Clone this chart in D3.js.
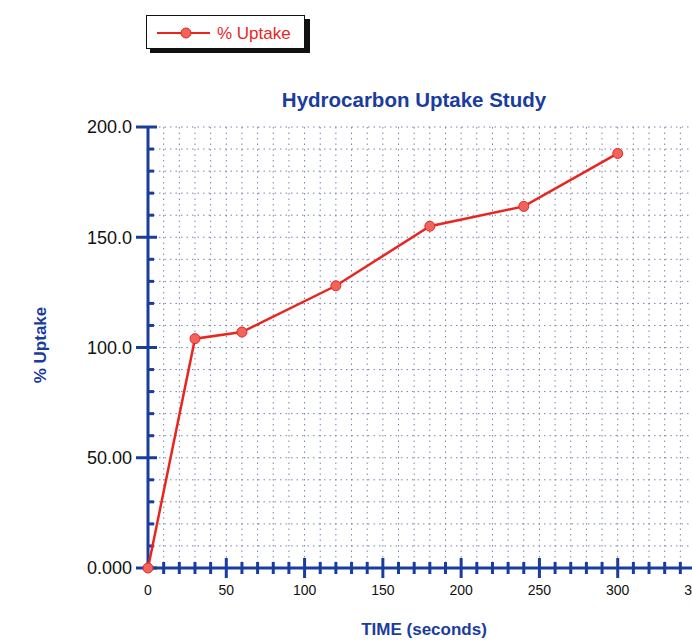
<!DOCTYPE html>
<html>
<head>
<meta charset="utf-8">
<script src="https://cdn.jsdelivr.net/npm/d3@7"></script>
<style>
  body { margin: 0; background: #fff; }
  svg { display: block; font-family: "Liberation Sans", Arial, sans-serif; }
</style>
</head>
<body>
<div id="chart"></div>
<script>
// data
const times = [0, 30, 60, 120, 180, 240, 300];
const uptake = [0, 104, 107, 128, 155, 164, 188];
const xTicks = [0, 50, 100, 150, 200, 250, 300, 350];
const yTicks = [0, 50, 100, 150, 200];
const yTickLabels = ["0.000", "50.00", "100.0", "150.0", "200.0"];
const seriesName = "% Uptake";

const W = 692, H = 640;
const blue = "#1b3c9f";
const red = "#e8261f";

const svg = d3.select("#chart").append("svg")
  .attr("width", W).attr("height", H);

const x = d3.scaleLinear().domain([0, 350]).range([148, 696]);
const y = d3.scaleLinear().domain([0, 200]).range([568, 127]);

// dotted grid, every 10 units
const gx = d3.range(10, 351, 10);
const gy = d3.range(10, 201, 10);
svg.append("g").selectAll("line").data(gx).join("line")
  .attr("x1", d => x(d)).attr("x2", d => x(d))
  .attr("y1", y(200)).attr("y2", y(0))
  .attr("stroke", "#7386b0").attr("stroke-width", 1)
  .attr("stroke-dasharray", "1.5,4");
svg.append("g").selectAll("line").data(gy).join("line")
  .attr("x1", x(0)).attr("x2", W)
  .attr("y1", d => y(d)).attr("y2", d => y(d))
  .attr("stroke", "#7386b0").attr("stroke-width", 1)
  .attr("stroke-dasharray", "1.5,4");

// y axis
const yAxis = svg.append("g").attr("transform", `translate(${x(0)},0)`);
yAxis.append("line").attr("y1", y(200)).attr("y2", y(0))
  .attr("stroke", blue).attr("stroke-width", 3);
yAxis.selectAll(".minor").data(d3.range(10, 200, 10).filter(d => d % 50)).join("line")
  .attr("x1", 0).attr("x2", 6)
  .attr("y1", d => y(d)).attr("y2", d => y(d))
  .attr("stroke", blue).attr("stroke-width", 3);
yAxis.selectAll(".major").data(yTicks).join("line")
  .attr("x1", -12).attr("x2", 9)
  .attr("y1", d => y(d)).attr("y2", d => y(d))
  .attr("stroke", blue).attr("stroke-width", 3);
yAxis.selectAll("text").data(yTicks).join("text")
  .attr("x", -16).attr("y", d => y(d)).attr("dy", "0.35em")
  .attr("text-anchor", "end").attr("font-size", 18).attr("fill", "#111")
  .text((d, i) => yTickLabels[i]);

// x axis
const xAxis = svg.append("g").attr("transform", `translate(0,${y(0)})`);
xAxis.append("line").attr("x1", x(0)).attr("x2", W)
  .attr("stroke", blue).attr("stroke-width", 3);
xAxis.selectAll(".minor").data(d3.range(10, 351, 10).filter(d => d % 50)).join("line")
  .attr("x1", d => x(d)).attr("x2", d => x(d))
  .attr("y1", -6).attr("y2", 6)
  .attr("stroke", blue).attr("stroke-width", 3);
xAxis.selectAll(".major").data(xTicks.slice(1)).join("line")
  .attr("x1", d => x(d)).attr("x2", d => x(d))
  .attr("y1", -10).attr("y2", 10)
  .attr("stroke", blue).attr("stroke-width", 3);
xAxis.selectAll("text").data(xTicks).join("text")
  .attr("x", d => x(d)).attr("y", 27)
  .attr("text-anchor", "middle").attr("font-size", 14).attr("fill", "#111")
  .text(d => d);

// line + markers
const pts = times.map((t, i) => [t, uptake[i]]);
svg.append("path").datum(pts)
  .attr("fill", "none").attr("stroke", red).attr("stroke-width", 2.5)
  .attr("d", d3.line().x(d => x(d[0])).y(d => y(d[1])));
svg.append("g").selectAll("circle").data(pts).join("circle")
  .attr("cx", d => x(d[0])).attr("cy", d => y(d[1])).attr("r", 5)
  .attr("fill", "#f0645c").attr("stroke", red).attr("stroke-width", 1);

// titles
svg.append("text").attr("x", 414).attr("y", 107)
  .attr("text-anchor", "middle").attr("font-size", 20.5).attr("font-weight", "bold")
  .attr("fill", blue).text("Hydrocarbon Uptake Study");
svg.append("text").attr("x", 424).attr("y", 635)
  .attr("text-anchor", "middle").attr("font-size", 17).attr("font-weight", "bold")
  .attr("fill", blue).text("TIME (seconds)");
svg.append("text").attr("transform", "translate(46,345) rotate(-90)")
  .attr("text-anchor", "middle").attr("font-size", 17).attr("font-weight", "bold")
  .attr("fill", blue).text("% Uptake");

// legend
const lg = svg.append("g").attr("transform", "translate(146,15)");
lg.append("rect").attr("x", 4).attr("y", 4).attr("width", 160).attr("height", 34).attr("fill", "#111");
lg.append("rect").attr("x", 0.5).attr("y", 0.5).attr("width", 158).attr("height", 33)
  .attr("fill", "#fff").attr("stroke", "#111").attr("stroke-width", 1);
lg.append("line").attr("x1", 11).attr("x2", 64).attr("y1", 18).attr("y2", 18)
  .attr("stroke", red).attr("stroke-width", 2);
lg.append("circle").attr("cx", 40).attr("cy", 18).attr("r", 5)
  .attr("fill", "#f0645c").attr("stroke", red);
lg.append("text").attr("x", 71).attr("y", 18).attr("dy", "0.35em")
  .attr("font-size", 17).attr("fill", red).text(seriesName);
</script>
</body>
</html>
